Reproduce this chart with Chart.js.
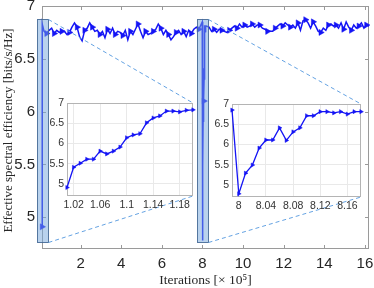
<!DOCTYPE html>
<html>
<head>
<meta charset="utf-8">
<script src="https://cdn.jsdelivr.net/npm/chart.js@4.4.0/dist/chart.umd.min.js"></script>
<style>
  html, body { margin: 0; padding: 0; background: #fff; }
  #wrap { position: relative; width: 374px; height: 288px; }
  #wrap canvas { position: absolute; }
</style>
</head>
<body>
<div id="wrap">
  <canvas id="mainChart" width="374" height="288" style="left:0;top:0;width:374px;height:288px"></canvas>
  <canvas id="zoomChart1" width="160" height="120" style="left:40px;top:95px;width:160px;height:120px"></canvas>
  <canvas id="zoomChart2" width="165" height="120" style="left:205px;top:95px;width:165px;height:120px"></canvas>
</div>
<script>
// main axis ticks (x in units of 10^5 iterations)
const mainXTicks = [2, 4, 6, 8, 10, 12, 14, 16];
const effTicks = [5, 5.5, 6, 6.5, 7];
const effTickLabels = ['5', '5.5', '6', '6.5', '7'];

// coarse samples, every 0.125 x 10^5 iterations
const coarseStep = 0.125;
const partAStart = 0.2;
const partAVals = [6.76, 6.74, 6.77, 6.79, 6.74, 6.77, 6.75, 6.76, 6.76, 6.73,
  6.75, 6.80, 6.84, 6.80, 6.71, 6.67, 6.77, 6.79, 6.84, 6.80,
  6.76, 6.77, 6.73, 6.76, 6.70, 6.78, 6.74, 6.79, 6.73, 6.76,
  6.75, 6.72, 6.77, 6.68, 6.76, 6.73, 6.78, 6.83, 6.76, 6.70,
  6.76, 6.73, 6.74, 6.76, 6.78, 6.83, 6.79, 6.73, 6.77, 6.73,
  6.68, 6.71, 6.75, 6.77, 6.73, 6.76, 6.71, 6.77, 6.74, 6.78,
  6.80, 6.78];
const partBStart = 8.325;
const partBVals = [6.80, 6.76, 6.78, 6.75, 6.78, 6.77, 6.76, 6.75, 6.77, 6.79,
  6.81, 6.79, 6.83, 6.80, 6.82, 6.80, 6.81, 6.83, 6.80, 6.82,
  6.82, 6.79, 6.78, 6.76, 6.76, 6.76, 6.79, 6.81, 6.83, 6.81,
  6.84, 6.82, 6.80, 6.82, 6.79, 6.84, 6.77, 6.86, 6.87, 6.84,
  6.79, 6.85, 6.81, 6.76, 6.75, 6.79, 6.77, 6.82, 6.83, 6.81,
  6.82, 6.79, 6.84, 6.78, 6.85, 6.80, 6.77, 6.82, 6.79, 6.81,
  6.84, 6.79, 6.82, 6.81];

// zoom 1 (x in units of 10^4 iterations)
const zoom1X = [1.01, 1.02, 1.03, 1.04, 1.05, 1.06, 1.07, 1.08, 1.09, 1.10,
  1.11, 1.12, 1.13, 1.14, 1.15, 1.16, 1.17, 1.18, 1.19, 1.20];
const zoom1Vals = [4.91, 5.41, 5.51, 5.61, 5.61, 5.81, 5.74, 5.81, 5.91, 6.14,
  6.21, 6.24, 6.51, 6.63, 6.68, 6.80, 6.80, 6.78, 6.82, 6.83];
const zoom1Ticks = [1.02, 1.06, 1.1, 1.14, 1.18];
const zoom1TickLabels = ['1.02', '1.06', '1.1', '1.14', '1.18'];

// zoom 2 (x in units of 10^5 iterations)
const zoom2X = [7.99, 8.00, 8.01, 8.02, 8.03, 8.04, 8.05, 8.06, 8.07, 8.08,
  8.09, 8.10, 8.11, 8.12, 8.13, 8.14, 8.15, 8.16, 8.17, 8.18];
const zoom2Vals = [6.85, 4.78, 5.29, 5.49, 5.91, 6.11, 6.11, 6.41, 6.10, 6.31,
  6.41, 6.71, 6.71, 6.81, 6.81, 6.78, 6.81, 6.75, 6.81, 6.81];
const zoom2Ticks = [8, 8.04, 8.08, 8.12, 8.16];
const zoom2TickLabels = ['8', '8.04', '8.08', '8.12', '8.16'];

const xTitle = 'Iterations [× 10⁵]';
const yTitle = 'Effective spectral efficiency [bits/s/Hz]';

const SANS = "'Liberation Sans', Arial, sans-serif";
const SERIF = "'Liberation Serif', 'Times New Roman', serif";
const BLUE = '#1414f5';

// box + inward tick marks (+ axis titles on the main chart)
const framePlugin = {
  id: 'frame',
  beforeDatasetsDraw(chart, args, opts) {
    const { ctx, chartArea: a, scales } = chart;
    ctx.save();
    ctx.strokeStyle = opts.color;
    ctx.lineWidth = 1;
    ctx.strokeRect(Math.round(a.left) + 0.5, Math.round(a.top) + 0.5,
      Math.round(a.right - a.left) - 1, Math.round(a.bottom - a.top) - 1);
    if (opts.tick > 0) {
      const t = opts.tick;
      ctx.beginPath();
      scales.x.ticks.forEach(tk => {
        const px = Math.round(scales.x.getPixelForValue(tk.value)) + 0.5;
        ctx.moveTo(px, a.bottom); ctx.lineTo(px, a.bottom - t);
        ctx.moveTo(px, a.top); ctx.lineTo(px, a.top + t);
      });
      scales.y.ticks.forEach(tk => {
        const py = Math.round(scales.y.getPixelForValue(tk.value)) + 0.5;
        ctx.moveTo(a.left, py); ctx.lineTo(a.left + t, py);
        ctx.moveTo(a.right, py); ctx.lineTo(a.right - t, py);
      });
      ctx.stroke();
    }
    if (opts.titles) {
      ctx.fillStyle = '#262626';
      ctx.font = '13.5px ' + SERIF;
      ctx.textAlign = 'center';
      ctx.textBaseline = 'middle';
      ctx.fillText(xTitle, (a.left + a.right) / 2, 280);
      ctx.translate(8.5, (a.top + a.bottom) / 2 + 3);
      ctx.rotate(-Math.PI / 2);
      ctx.font = '13px ' + SERIF;
      ctx.fillText(yTitle, 0, 0);
    }
    ctx.restore();
  }
};

function makeZoom(id, xs, vals, ticks, labels, xmin, xmax, pad, xh) {
  const el = document.getElementById(id);
  return new Chart(el, {
    type: 'line',
    data: {
      datasets: [{
        data: xs.map((x, i) => ({ x: x, y: vals[i] })),
        borderColor: BLUE,
        borderWidth: 1.3,
        pointStyle: 'triangle',
        rotation: 90,
        pointRadius: 2.4,
        pointBackgroundColor: BLUE,
        pointBorderColor: BLUE,
        pointBorderWidth: 0.5,
        tension: 0,
        clip: 4
      }]
    },
    options: {
      responsive: false,
      animation: false,
      events: [],
      layout: { padding: pad },
      plugins: {
        legend: { display: false },
        tooltip: { enabled: false },
        frame: { color: '#b4b4b4', tick: 0 }
      },
      scales: {
        x: {
          type: 'linear', min: xmin, max: xmax,
          afterBuildTicks: s => { s.ticks = ticks.map(v => ({ value: v })); },
          afterFit: s => { s.height = xh; s.paddingLeft = 0; s.paddingRight = 0; },
          grid: { color: '#e9e9e9', drawTicks: false },
          border: { display: false },
          ticks: { font: { family: SANS, size: 10.5 }, color: '#333', padding: 3,
            maxRotation: 0, autoSkip: false, callback: (v, i) => labels[i] }
        },
        y: {
          min: 4.7, max: 7,
          afterBuildTicks: s => { s.ticks = effTicks.map(v => ({ value: v })); },
          afterFit: s => { s.width = 27; s.paddingTop = 0; s.paddingBottom = 0; },
          grid: { color: '#e9e9e9', drawTicks: false },
          border: { display: false },
          ticks: { font: { family: SANS, size: 10.5 }, color: '#333', padding: 3,
            callback: (v, i) => effTickLabels[i] }
        }
      }
    },
    plugins: [framePlugin]
  });
}

const zoomChart1 = makeZoom('zoomChart1', zoom1X, zoom1Vals, zoom1Ticks, zoom1TickLabels,
  1.01, 1.2, { left: 0, right: 7, top: 8, bottom: 0 }, 19);
const zoomChart2 = makeZoom('zoomChart2', zoom2X, zoom2Vals, zoom2Ticks, zoom2TickLabels,
  7.99, 8.18, { left: 0, right: 9, top: 9, bottom: 0 }, 18);

// main series: coarse samples plus the fine samples of the two zoom windows
const mainPts = [];
const mainRadius = [];
zoom1X.forEach((x, i) => { mainPts.push({ x: x / 10, y: zoom1Vals[i] }); mainRadius.push(i === 0 ? 3.5 : 0); });
partAVals.forEach((v, i) => { mainPts.push({ x: partAStart + i * coarseStep, y: v }); mainRadius.push(i % 3 === 1 ? 3.5 : 0); });
zoom2X.forEach((x, i) => { mainPts.push({ x: x, y: zoom2Vals[i] }); mainRadius.push(i === 8 ? 3.5 : 0); });
partBVals.forEach((v, i) => { mainPts.push({ x: partBStart + i * coarseStep, y: v }); mainRadius.push(i % 3 === 2 ? 3.5 : 0); });

// highlighted regions and the insets they map to
const zoomBoxes = [
  { x0: -0.15, x1: 0.38, y0: 4.77, y1: 6.88, inset: zoomChart1 },
  { x0: 7.74, x1: 8.27, y0: 4.77, y1: 6.88, inset: zoomChart2 }
];

const zoomMarks = {
  id: 'zoomMarks',
  afterDatasetsDraw(chart) {
    const { ctx, scales: { x, y } } = chart;
    ctx.save();
    zoomBoxes.forEach(b => {
      const l = Math.round(x.getPixelForValue(b.x0)) + 0.5;
      const r = Math.round(x.getPixelForValue(b.x1)) + 0.5;
      const t = Math.round(y.getPixelForValue(b.y1)) + 0.5;
      const bt = Math.round(y.getPixelForValue(b.y0)) + 0.5;
      ctx.fillStyle = 'rgba(115,165,220,0.5)';
      ctx.fillRect(l, t, r - l, bt - t);
      ctx.setLineDash([]);
      ctx.lineWidth = 1;
      ctx.strokeStyle = 'rgba(70,105,150,0.9)';
      ctx.strokeRect(l, t, r - l, bt - t);
      const cv = b.inset.canvas;
      const ia = b.inset.chartArea;
      const ix = cv.offsetLeft + ia.right;
      ctx.setLineDash([4, 3]);
      ctx.strokeStyle = '#64a2e2';
      ctx.beginPath();
      ctx.moveTo(r, t); ctx.lineTo(ix, cv.offsetTop + ia.top);
      ctx.moveTo(r, bt); ctx.lineTo(ix, cv.offsetTop + ia.bottom);
      ctx.stroke();
    });
    ctx.restore();
  }
};

new Chart(document.getElementById('mainChart'), {
  type: 'line',
  data: {
    datasets: [{
      data: mainPts,
      borderColor: BLUE,
      borderWidth: 1.5,
      pointStyle: 'triangle',
      rotation: 90,
      pointRadius: mainRadius,
      pointBackgroundColor: BLUE,
      pointBorderColor: BLUE,
      pointBorderWidth: 0.5,
      tension: 0,
      clip: false
    }]
  },
  options: {
    responsive: false,
    animation: false,
    events: [],
    layout: { padding: { left: 0, right: 5, top: 6, bottom: 0 } },
    plugins: {
      legend: { display: false },
      tooltip: { enabled: false },
      frame: { color: '#9a9a9a', tick: 4, titles: true }
    },
    scales: {
      x: {
        type: 'linear', min: 0.1, max: 16.2,
        afterBuildTicks: s => { s.ticks = mainXTicks.map(v => ({ value: v })); },
        afterFit: s => { s.height = 39; s.paddingLeft = 0; s.paddingRight = 0; },
        grid: { display: false, drawTicks: false },
        border: { display: false },
        ticks: { font: { family: SANS, size: 15 }, color: '#262626', padding: 6,
          maxRotation: 0, autoSkip: false, callback: v => String(v) }
      },
      y: {
        min: 4.7, max: 7,
        afterBuildTicks: s => { s.ticks = effTicks.map(v => ({ value: v })); },
        afterFit: s => { s.width = 42; s.paddingTop = 0; s.paddingBottom = 0; },
        grid: { display: false, drawTicks: false },
        border: { display: false },
        ticks: { font: { family: SANS, size: 15 }, color: '#262626', padding: 7,
          callback: (v, i) => effTickLabels[i] }
      }
    }
  },
  plugins: [framePlugin, zoomMarks]
});
</script>
</body>
</html>
